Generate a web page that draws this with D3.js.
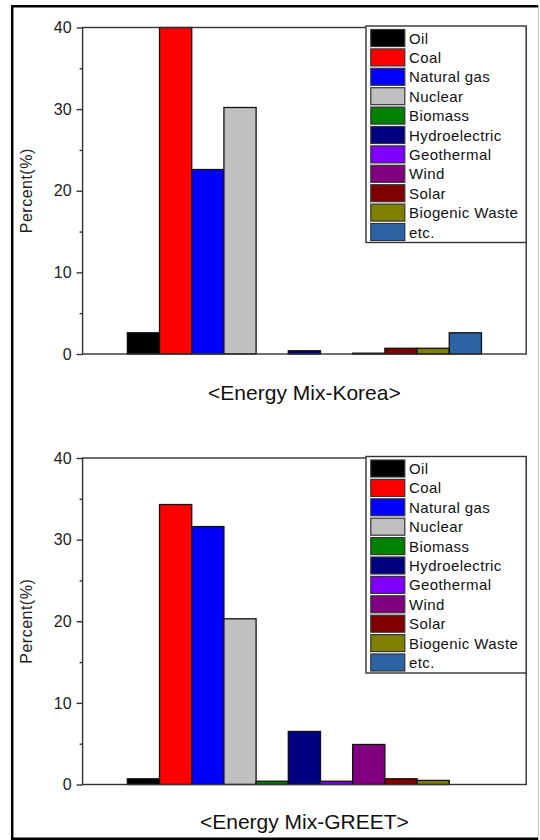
<!DOCTYPE html>
<html>
<head>
<meta charset="utf-8">
<script src="https://cdn.jsdelivr.net/npm/d3@7"></script>
<style>
  body { margin: 0; background: #fff; }
  svg { display: block; font-family: "Liberation Sans", Arial, sans-serif; }
</style>
</head>
<body>
<div id="chart"></div>
<script>
// energy sources, in the order they appear on the x axis and in the legend
var categories = ["Oil", "Coal", "Natural gas", "Nuclear", "Biomass", "Hydroelectric",
  "Geothermal", "Wind", "Solar", "Biogenic Waste", "etc."];
var colors = ["#000000", "#ff0000", "#0000ff", "#c0c0c0", "#008000", "#000080",
  "#8000ff", "#800080", "#800000", "#808000", "#2c64a6"];

// percent share per source
var koreaValues = [2.6, 40, 22.6, 30.2, 0, 0.4, 0, 0.1, 0.7, 0.7, 2.6];
var greetValues = [0.7, 34.3, 31.6, 20.3, 0.4, 6.5, 0.4, 4.9, 0.7, 0.5, 0];

var yTicks = [0, 10, 20, 30, 40];
var yMinorTicks = [5, 15, 25, 35];
var titles = ["<Energy Mix-Korea>", "<Energy Mix-GREET>"];
var yLabel = "Percent(%)";

var width = 540;
var height = 840;

var svg = d3.select("#chart")
  .append("svg")
  .attr("width", width)
  .attr("height", height);

svg.append("rect")
  .attr("width", width)
  .attr("height", height)
  .attr("fill", "#fff");

// outer frame (right side is cut off in the original, only a faint line)
svg.append("path")
  .attr("d", "M538,6.2 H12.2 V838.8 H538")
  .attr("fill", "none")
  .attr("stroke", "#000")
  .attr("stroke-width", 2.5);
svg.append("line")
  .attr("x1", 538.5).attr("x2", 538.5)
  .attr("y1", 5).attr("y2", 840)
  .attr("stroke", "#c8c8c8")
  .attr("stroke-width", 1);

function drawPanel(values, title, top, bottom, titleY) {
  var left = 82.6, right = 526.2;

  var x = d3.scaleBand()
    .domain(categories)
    .range([left, right])
    .paddingInner(0)
    .paddingOuter(1.39);

  var y = d3.scaleLinear()
    .domain([0, 40])
    .range([bottom, top]);

  var g = svg.append("g");

  // bars
  g.selectAll(".bar")
    .data(categories)
    .enter()
    .append("rect")
    .attr("class", "bar")
    .attr("x", function(d) { return x(d); })
    .attr("y", function(d, i) { return y(values[i]); })
    .attr("width", x.bandwidth())
    .attr("height", function(d, i) { return y(0) - y(values[i]); })
    .attr("fill", function(d, i) { return colors[i]; })
    .attr("stroke", "#111")
    .attr("stroke-width", 1.3);

  // plot frame
  g.append("rect")
    .attr("x", left)
    .attr("y", top)
    .attr("width", right - left)
    .attr("height", bottom - top)
    .attr("fill", "none")
    .attr("stroke", "#333")
    .attr("stroke-width", 1.4);

  // y axis, major + minor ticks
  var axis = g.append("g")
    .attr("transform", "translate(" + left + ",0)")
    .call(d3.axisLeft(y).tickValues(yTicks).tickSize(6).tickSizeOuter(0).tickPadding(5));
  axis.select(".domain").remove();
  axis.selectAll("line").attr("stroke", "#333").attr("stroke-width", 1.4);
  axis.selectAll("text")
    .attr("fill", "#222")
    .style("font-size", "16px")
    .style("font-family", "'Liberation Sans', Arial, sans-serif");

  var minor = g.append("g")
    .attr("transform", "translate(" + left + ",0)")
    .call(d3.axisLeft(y).tickValues(yMinorTicks).tickSize(3).tickSizeOuter(0).tickFormat(""));
  minor.select(".domain").remove();
  minor.selectAll("line").attr("stroke", "#333").attr("stroke-width", 1.4);

  g.append("text")
    .attr("transform", "translate(31.7," + (top + bottom) / 2 + ") rotate(-90)")
    .attr("text-anchor", "middle")
    .attr("fill", "#222")
    .style("font-size", "16px")
    .style("letter-spacing", "0.5px")
    .text(yLabel);

  // legend
  var legTop = top - 1.5;
  var legend = g.append("g");
  legend.append("rect")
    .attr("x", 366)
    .attr("y", legTop)
    .attr("width", right - 366)
    .attr("height", 216.5)
    .attr("fill", "#fff")
    .attr("stroke", "#333")
    .attr("stroke-width", 1.4);

  var item = legend.selectAll(".item")
    .data(categories)
    .enter()
    .append("g")
    .attr("class", "item")
    .attr("transform", function(d, i) { return "translate(0," + (legTop + 3.5 + i * 19.4) + ")"; });

  item.append("rect")
    .attr("x", 370.8)
    .attr("width", 34)
    .attr("height", 17)
    .attr("fill", function(d, i) { return colors[i]; })
    .attr("stroke", "#333")
    .attr("stroke-width", 1.2);

  item.append("text")
    .attr("x", 409)
    .attr("y", 14)
    .attr("fill", "#111")
    .style("font-size", "15px")
    .style("letter-spacing", "0.4px")
    .text(function(d) { return d; });

  g.append("text")
    .attr("x", (left + right) / 2)
    .attr("y", titleY)
    .attr("text-anchor", "middle")
    .attr("fill", "#111")
    .style("font-size", "21px")
    .text(title);
}

drawPanel(koreaValues, titles[0], 27.5, 354, 400);
drawPanel(greetValues, titles[1], 458, 784.5, 829);
</script>
</body>
</html>
